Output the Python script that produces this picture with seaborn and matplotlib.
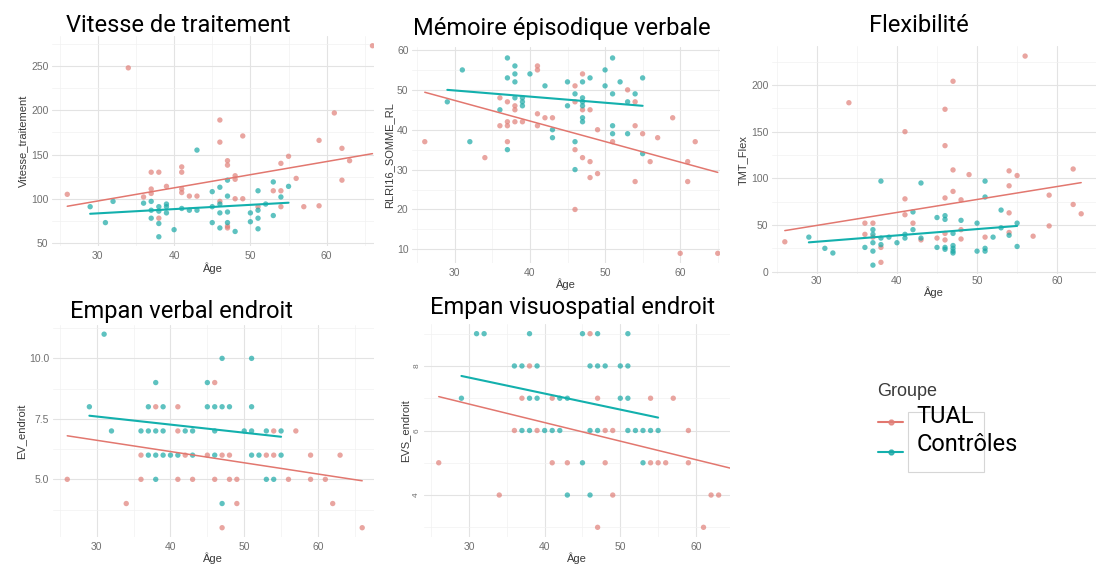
import matplotlib
matplotlib.use("Agg")
import matplotlib.pyplot as plt
import pandas as pd
import seaborn as sns
from matplotlib.lines import Line2D
from matplotlib.patches import Rectangle
from matplotlib.ticker import FixedLocator, FormatStrFormatter

# ---------------------------------------------------------------- data
# Vitesse de traitement
vt_tual_age = [26, 34, 66, 36, 37, 37, 37, 38, 38, 39, 41, 41, 41, 41, 42, 43, 46, 46, 46, 47, 47,
               47, 47, 48, 48, 48, 49, 49, 51, 53, 54, 54, 54, 55, 56, 57, 59, 59, 61, 62, 62, 63]
vt_tual = [105, 248, 273, 102, 130, 111, 106, 130, 78, 114, 136, 130, 111, 107, 103, 103, 189, 164, 97,
           143, 138, 69, 67, 126, 122, 100, 171, 100, 91, 109, 140, 109, 91, 148, 123, 91, 166, 92, 197,
           157, 121, 143]
vt_ctrl_age = [29, 32, 31, 36, 37, 37, 37, 38, 38, 38, 38, 39, 39, 39, 40, 41, 42, 43, 43, 45, 45,
               45, 46, 46, 46, 46, 47, 47, 47, 47, 48, 50, 50, 51, 51, 51, 51, 52, 53, 53, 54, 55]
vt_ctrl = [91, 97, 73, 95, 97, 87, 78, 91, 86, 72, 57, 94, 91, 84, 65, 89, 87, 155, 87, 108, 91, 73,
           113, 94, 84, 67, 121, 103, 85, 73, 63, 84, 74, 109, 87, 78, 66, 94, 119, 81, 102, 114]
vt_fit_age_tual, vt_fit_tual = [26, 66], [91.5, 151]
vt_fit_age_ctrl, vt_fit_ctrl = [29, 55], [83, 95.5]

# Mémoire épisodique verbale
mem_tual_age = [26, 34, 36, 36, 37, 37, 37, 37, 38, 38, 38, 39, 41, 41, 41, 41, 42, 43, 46, 46, 46, 46,
                47, 47, 47, 48, 48, 48, 49, 49, 51, 53, 54, 54, 54, 55, 56, 57, 59, 60, 61, 61, 62, 65]
mem_tual = [37, 33, 48, 41, 47, 42, 41, 37, 46, 45, 42, 42, 56, 55, 44, 41, 43, 43, 51, 47, 35, 20,
            54, 45, 33, 45, 32, 28, 40, 29, 37, 50, 47, 41, 27, 39, 32, 38, 43, 9, 32, 27, 37, 9]
mem_ctrl_age = [29, 31, 32, 36, 37, 37, 37, 38, 38, 38, 38, 39, 39, 39, 40, 42, 43, 43, 45, 45, 46, 46,
                46, 47, 47, 47, 47, 47, 47, 48, 50, 50, 51, 51, 51, 51, 52, 53, 53, 54, 55, 55]
mem_ctrl = [47, 55, 37, 45, 58, 53, 35, 56, 54, 52, 48, 48, 47, 46, 54, 51, 40, 38, 52, 46, 49, 37,
            30, 52, 48, 47, 46, 43, 42, 53, 55, 51, 58, 49, 41, 39, 52, 47, 39, 49, 53, 34]
mem_fit_age_tual, mem_fit_tual = [26, 65], [49.4, 29.3]
mem_fit_age_ctrl, mem_fit_ctrl = [29, 55], [50.0, 46.0]

# Flexibilité
flex_tual_age = [26, 34, 36, 36, 37, 37, 38, 38, 41, 41, 41, 42, 43, 45, 46, 46, 46, 46, 46, 47, 47,
                 47, 48, 48, 48, 49, 51, 54, 54, 54, 54, 55, 56, 57, 59, 59, 62, 62, 63]
flex_tual = [32, 181, 52, 40, 52, 37, 26, 10, 150, 78, 61, 52, 34, 36, 174, 135, 79, 41, 34, 204, 109,
             86, 77, 45, 35, 104, 37, 108, 92, 63, 42, 103, 231, 38, 82, 49, 110, 72, 62]
flex_ctrl_age = [29, 31, 32, 36, 37, 37, 37, 37, 37, 38, 38, 38, 39, 40, 41, 41, 42, 42, 43, 43, 45,
                 45, 46, 46, 46, 46, 47, 47, 47, 47, 47, 48, 50, 50, 51, 51, 51, 51, 52, 53, 53, 54,
                 55, 55]
flex_ctrl = [37, 25, 20, 26, 45, 40, 31, 22, 7, 97, 36, 29, 37, 31, 40, 36, 64, 45, 95, 36, 58, 26,
             60, 56, 26, 24, 41, 28, 25, 22, 20, 55, 52, 22, 97, 80, 25, 22, 37, 66, 47, 39, 52, 27]
flex_fit_age_tual, flex_fit_tual = [26, 63], [44, 95.4]
flex_fit_age_ctrl, flex_fit_ctrl = [29, 55], [31.4, 49]

# Empan verbal endroit
ev_tual_age = [26, 34, 36, 36, 38, 41, 41, 41, 42, 43, 45, 46, 46, 47, 47, 48, 48, 49, 49, 53, 54,
               54, 56, 57, 59, 59, 61, 62, 63, 66]
ev_tual = [5, 4, 6, 5, 8, 8, 7, 5, 6, 5, 6, 9, 5, 6, 3, 6, 5, 5, 4, 6, 7, 6, 5, 7, 6, 5, 5, 4, 6, 3]
ev_ctrl_age = [29, 31, 32, 36, 37, 37, 37, 38, 38, 38, 38, 39, 39, 39, 40, 41, 42, 43, 43, 45, 45,
               46, 46, 46, 47, 47, 47, 48, 50, 51, 51, 51, 51, 52, 53, 53, 54, 55, 55]
ev_ctrl = [8, 11, 7, 7, 8, 7, 6, 9, 7, 6, 5, 8, 7, 6, 6, 6, 7, 7, 6, 9, 8, 8, 7, 6, 10, 8, 4, 8, 7,
           10, 8, 7, 6, 6, 7, 5, 5, 7, 6]
ev_fit_age_tual, ev_fit_tual = [26, 66], [6.8, 4.94]
ev_fit_age_ctrl, ev_fit_ctrl = [29, 55], [7.63, 6.76]

# Empan visuospatial endroit
evs_tual_age = [26, 34, 36, 37, 38, 39, 41, 41, 43, 46, 47, 47, 48, 48, 49, 49, 54, 54, 55, 56, 57,
                59, 59, 61, 62, 63]
evs_tual = [5, 4, 6, 7, 8, 6, 7, 5, 5, 9, 7, 3, 6, 5, 6, 4, 7, 5, 5, 5, 7, 6, 5, 3, 4, 4]
evs_ctrl_age = [29, 31, 32, 36, 37, 37, 38, 38, 38, 39, 39, 40, 41, 42, 42, 43, 43, 45, 45, 46, 46,
                46, 47, 47, 47, 48, 50, 50, 51, 51, 51, 51, 52, 53, 53, 54, 55]
evs_ctrl = [7, 9, 9, 8, 8, 6, 9, 7, 6, 8, 7, 6, 6, 7, 6, 7, 4, 9, 5, 8, 6, 4, 9, 8, 6, 8, 8, 7, 9, 8,
            7, 6, 6, 6, 5, 6, 6]
evs_fit_age_tual, evs_fit_tual = [26, 66], [7.05, 4.75]
evs_fit_age_ctrl, evs_fit_ctrl = [29, 55], [7.69, 6.40]

groups = ["TUAL", "Contrôles"]

# ---------------------------------------------------------------- style
W, H, DPI = 1110, 565, 100
PALETTE = {"TUAL": "#E07F78", "Contrôles": "#1AA8A6"}
LINE_COL = {"TUAL": "#E2776F", "Contrôles": "#13B0AD"}
LINE_W = {"TUAL": 1.1, "Contrôles": 1.5}
TITLE_FONT = ["Roboto", "DejaVu Sans"]

sns.set_theme(style="white")
plt.rcParams["font.family"] = ["Liberation Sans", "DejaVu Sans"]

fig = plt.figure(figsize=(W / DPI, H / DPI), dpi=DPI)
fig.patch.set_facecolor("white")


def box(l, t, r, b):
    return [l / W, 1 - b / H, (r - l) / W, (b - t) / H]


def long_frame(t_age, t_val, c_age, c_val):
    return pd.concat([
        pd.DataFrame({"Âge": t_age, "val": t_val, "Groupe": groups[0]}),
        pd.DataFrame({"Âge": c_age, "val": c_val, "Groupe": groups[1]}),
    ], ignore_index=True)


panels = [
    dict(title="Vitesse de traitement", tpos=(178.5, 31.5), ylabel="Vitesse_traitement",
         rect=(52, 36, 374, 246.5), xlim=(24, 66.2), ylim=(46, 284),
         yticks=[50, 100, 150, 200, 250], fmt="%d", rot=0, xpad=3.5,
         pts=(vt_tual_age, vt_tual, vt_ctrl_age, vt_ctrl),
         fit=(vt_fit_age_tual, vt_fit_tual, vt_fit_age_ctrl, vt_fit_ctrl)),
    dict(title="Mémoire épisodique verbale", tpos=(561.7, 35), ylabel="RLRI16_SOMME_RL",
         rect=(412, 46.8, 720, 263.3), xlim=(24.3, 65.3), ylim=(6.5, 60.8),
         yticks=[10, 20, 30, 40, 50, 60], fmt="%d", rot=0, xpad=3.5,
         pts=(mem_tual_age, mem_tual, mem_ctrl_age, mem_ctrl),
         fit=(mem_fit_age_tual, mem_fit_tual, mem_fit_age_ctrl, mem_fit_ctrl)),
    dict(title="Flexibilité", tpos=(919, 32.3), ylabel="TMT_Flex",
         rect=(772, 45.8, 1096, 274), xlim=(24.4, 64.85), ylim=(-2.5, 242),
         yticks=[0, 50, 100, 150, 200], fmt="%d", rot=0, xpad=1.5,
         pts=(flex_tual_age, flex_tual, flex_ctrl_age, flex_ctrl),
         fit=(flex_fit_age_tual, flex_fit_tual, flex_fit_age_ctrl, flex_fit_ctrl)),
    dict(title="Empan verbal endroit", tpos=(181.7, 318.3), ylabel="EV_endroit",
         rect=(52.5, 324.5, 374, 537.4), xlim=(24, 67.6), ylim=(2.6, 11.4),
         yticks=[5.0, 7.5, 10.0], fmt="%.1f", rot=0, xpad=3.5,
         pts=(ev_tual_age, ev_tual, ev_ctrl_age, ev_ctrl),
         fit=(ev_fit_age_tual, ev_fit_tual, ev_fit_age_ctrl, ev_fit_ctrl)),
    dict(title="Empan visuospatial endroit", tpos=(572.5, 314), ylabel="EVS_endroit",
         rect=(423.6, 324, 730, 537), xlim=(24, 64.5), ylim=(2.7, 9.3),
         yticks=[4, 6, 8], fmt="%d", rot=90, xpad=3.5,
         pts=(evs_tual_age, evs_tual, evs_ctrl_age, evs_ctrl),
         fit=(evs_fit_age_tual, evs_fit_tual, evs_fit_age_ctrl, evs_fit_ctrl)),
]

for p in panels:
    ax = fig.add_axes(box(*p["rect"]))
    ax.set_facecolor("none")
    for s in ax.spines.values():
        s.set_visible(False)

    df = long_frame(*p["pts"])
    sns.scatterplot(data=df, x="Âge", y="val", hue="Groupe", hue_order=groups, palette=PALETTE,
                    s=15, alpha=0.7, linewidth=0, legend=False, ax=ax, zorder=3)

    fa_t, fv_t, fa_c, fv_c = p["fit"]
    for g, fa, fv in ((groups[0], fa_t, fv_t), (groups[1], fa_c, fv_c)):
        fit_df = pd.DataFrame({"Âge": fa, "val": fv})
        sns.lineplot(data=fit_df, x="Âge", y="val", color=LINE_COL[g], lw=LINE_W[g],
                     ax=ax, zorder=4)

    ax.set_xlim(*p["xlim"])
    ax.set_ylim(*p["ylim"])
    ax.xaxis.set_major_locator(FixedLocator([30, 40, 50, 60]))
    ax.xaxis.set_minor_locator(FixedLocator([25, 35, 45, 55, 65]))
    yt = p["yticks"]
    step = yt[1] - yt[0]
    ax.yaxis.set_major_locator(FixedLocator(yt))
    ax.yaxis.set_minor_locator(FixedLocator([v + step / 2 for v in [yt[0] - step] + yt]))
    ax.yaxis.set_major_formatter(FormatStrFormatter(p["fmt"]))
    ax.grid(True, which="major", color="#E3E3E3", lw=0.8, zorder=0)
    ax.grid(True, which="minor", color="#F1F1F1", lw=0.5, zorder=0)
    ax.set_axisbelow(True)
    ax.tick_params(which="both", length=0)
    ax.tick_params(axis="x", labelsize=7.5, labelcolor="#707070", pad=p["xpad"])
    ax.tick_params(axis="y", labelsize=7.5 if p["rot"] == 0 else 6, labelcolor="#707070",
                   pad=2.5, labelrotation=p["rot"])
    if p["rot"]:
        for lab in ax.get_yticklabels():
            lab.set_va("center")

    ax.set_xlabel("Âge", fontsize=8, color="#3A3A3A", labelpad=0.5)
    ax.set_ylabel(p["ylabel"], fontsize=8, color="#3A3A3A", labelpad=2)

    tx, ty = p["tpos"]
    fig.text(tx / W, 1 - ty / H, p["title"], ha="center", va="baseline", fontsize=17,
             color="black", family=TITLE_FONT)

# ---------------------------------------------------------------- legend
fig.text(877 / W, 1 - 396.5 / H, "Groupe", ha="left", va="baseline", fontsize=13,
         color="#3A3A3A")
for g, yk in ((groups[0], 421.5), (groups[1], 452)):
    yf = 1 - yk / H
    fig.add_artist(Line2D([878 / W, 903 / W], [yf, yf], color=LINE_COL[g], lw=1.5,
                          transform=fig.transFigure))
    fig.add_artist(Line2D([890.5 / W], [yf], color=PALETTE[g], marker="o", ms=3.5, alpha=0.8,
                          transform=fig.transFigure))
fig.add_artist(Rectangle((907.7 / W, 1 - 471.7 / H), (984.3 - 907.7) / W, (471.7 - 412.3) / H,
                         transform=fig.transFigure, facecolor="white", edgecolor="#D6D6D6",
                         lw=0.8))
fig.text(916.7 / W, 1 - 423.3 / H, "TUAL", ha="left", va="baseline", fontsize=17,
         color="black", family=TITLE_FONT)
fig.text(916.7 / W, 1 - 450.7 / H, "Contrôles", ha="left", va="baseline", fontsize=17,
         color="black", family=TITLE_FONT)

fig.savefig("out.png", dpi=DPI, facecolor="white")
